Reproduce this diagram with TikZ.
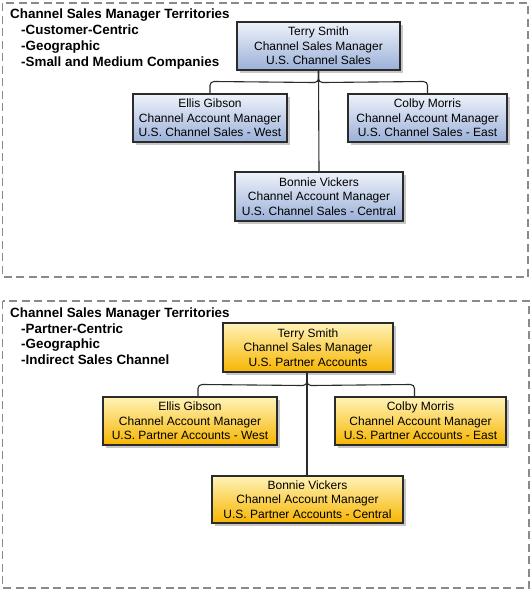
\documentclass[tikz,border=0pt]{standalone}
\usepackage{fontspec}
\setmainfont{Liberation Sans}
\usetikzlibrary{shadows,calc}
\definecolor{bluetop}{HTML}{EEF2FA}
\definecolor{bluebot}{HTML}{9BB0D8}
\definecolor{yeltop}{HTML}{FFF3B8}
\definecolor{yelbot}{HTML}{F7B500}
\definecolor{edge}{HTML}{2B2B2B}
\definecolor{dashgray}{HTML}{8A8A8A}
\tikzset{
  person/.style={draw=edge, line width=1.1pt, align=center, inner sep=0pt,
    font=\fontsize{12}{14.5}\selectfont,
    drop shadow={shadow xshift=3pt, shadow yshift=-3pt, fill=gray!55, opacity=0.8}},
  bluebox/.style={person, top color=bluetop, bottom color=bluebot},
  yelbox/.style={person, top color=yeltop, bottom color=yelbot},
  frame/.style={draw=dashgray, line width=1.1pt, dash pattern=on 8pt off 4.5pt},
  ttl/.style={anchor=base west, inner sep=0pt, font=\fontsize{13.4}{15}\selectfont\bfseries},
  link/.style={draw=edge, line width=1.1pt},
  brace/.style={link, rounded corners=4pt}
}
\begin{document}
\begin{tikzpicture}[x=1pt,y=-1pt]
\useasboundingbox (0,0) rectangle (531,590);
% frames
\draw[frame] (2.5,3) rectangle (528,277);
\draw[frame] (2.5,301) rectangle (529,588);

% ---- top panel ----
\node[ttl] (t1) at (10,18) {Channel Sales Manager Territories};
\node[ttl] (t1a) at (21,34) {-Customer-Centric};
\node[ttl] (t1b) at (21,50) {-Geographic};
\node[ttl] (t1c) at (21,66) {-Small and Medium Companies};

\node[bluebox, minimum width=163pt, minimum height=48pt] (a0) at (318.5,46) {Terry Smith\\Channel Sales Manager\\U.S. Channel Sales};
\node[bluebox, minimum width=154pt, minimum height=48pt] (a1) at (210,118) {Ellis Gibson\\Channel Account Manager\\U.S. Channel Sales - West};
\node[bluebox, minimum width=159pt, minimum height=48pt] (a2) at (427.5,118) {Colby Morris\\Channel Account Manager\\U.S. Channel Sales - East};
\node[bluebox, minimum width=168pt, minimum height=49pt] (a3) at (319,196.5) {Bonnie Vickers\\Channel Account Manager\\U.S. Channel Sales - Central};

\draw[brace] (a1.north) -- ($(a1.north)+(0,-12)$) -- ($(a0.south)+(0,12)$) -- (a0.south);
\draw[brace] (a2.north) -- ($(a2.north)+(0,-12)$) -- ($(a0.south)+(0,12)$) -- (a0.south);
\draw[link] (a0.south) -- (a3.north);

% ---- bottom panel ----
\node[ttl] (t2) at (10,317) {Channel Sales Manager Territories};
\node[ttl] (t2a) at (21,333) {-Partner-Centric};
\node[ttl] (t2b) at (21,348.5) {-Geographic};
\node[ttl] (t2c) at (21,364) {-Indirect Sales Channel};

\node[yelbox, minimum width=170pt, minimum height=49pt] (b0) at (308,347.5) {Terry Smith\\Channel Sales Manager\\U.S. Partner Accounts};
\node[yelbox, minimum width=174pt, minimum height=48pt] (b1) at (190,421) {Ellis Gibson\\Channel Account Manager\\U.S. Partner Accounts - West};
\node[yelbox, minimum width=171pt, minimum height=48pt] (b2) at (420.5,421) {Colby Morris\\Channel Account Manager\\U.S. Partner Accounts - East};
\node[yelbox, minimum width=191pt, minimum height=47pt] (b3) at (307.5,499.5) {Bonnie Vickers\\Channel Account Manager\\U.S. Partner Accounts - Central};

\coordinate (b1c) at ($(b1.north)+(8,0)$);
\coordinate (b2c) at ($(b2.north)+(-6,0)$);
\coordinate (b0c) at ($(b0.south)+(-1,0)$);
\draw[brace] (b1c) -- ($(b1c)+(0,-12)$) -- ($(b0c)+(0,13)$) -- (b0c);
\draw[brace] (b2c) -- ($(b2c)+(0,-12)$) -- ($(b0c)+(0,13)$) -- (b0c);
\draw[link] (b0c) -- ($(b3.north)+(-0.5,0)$);
\end{tikzpicture}
\end{document}
